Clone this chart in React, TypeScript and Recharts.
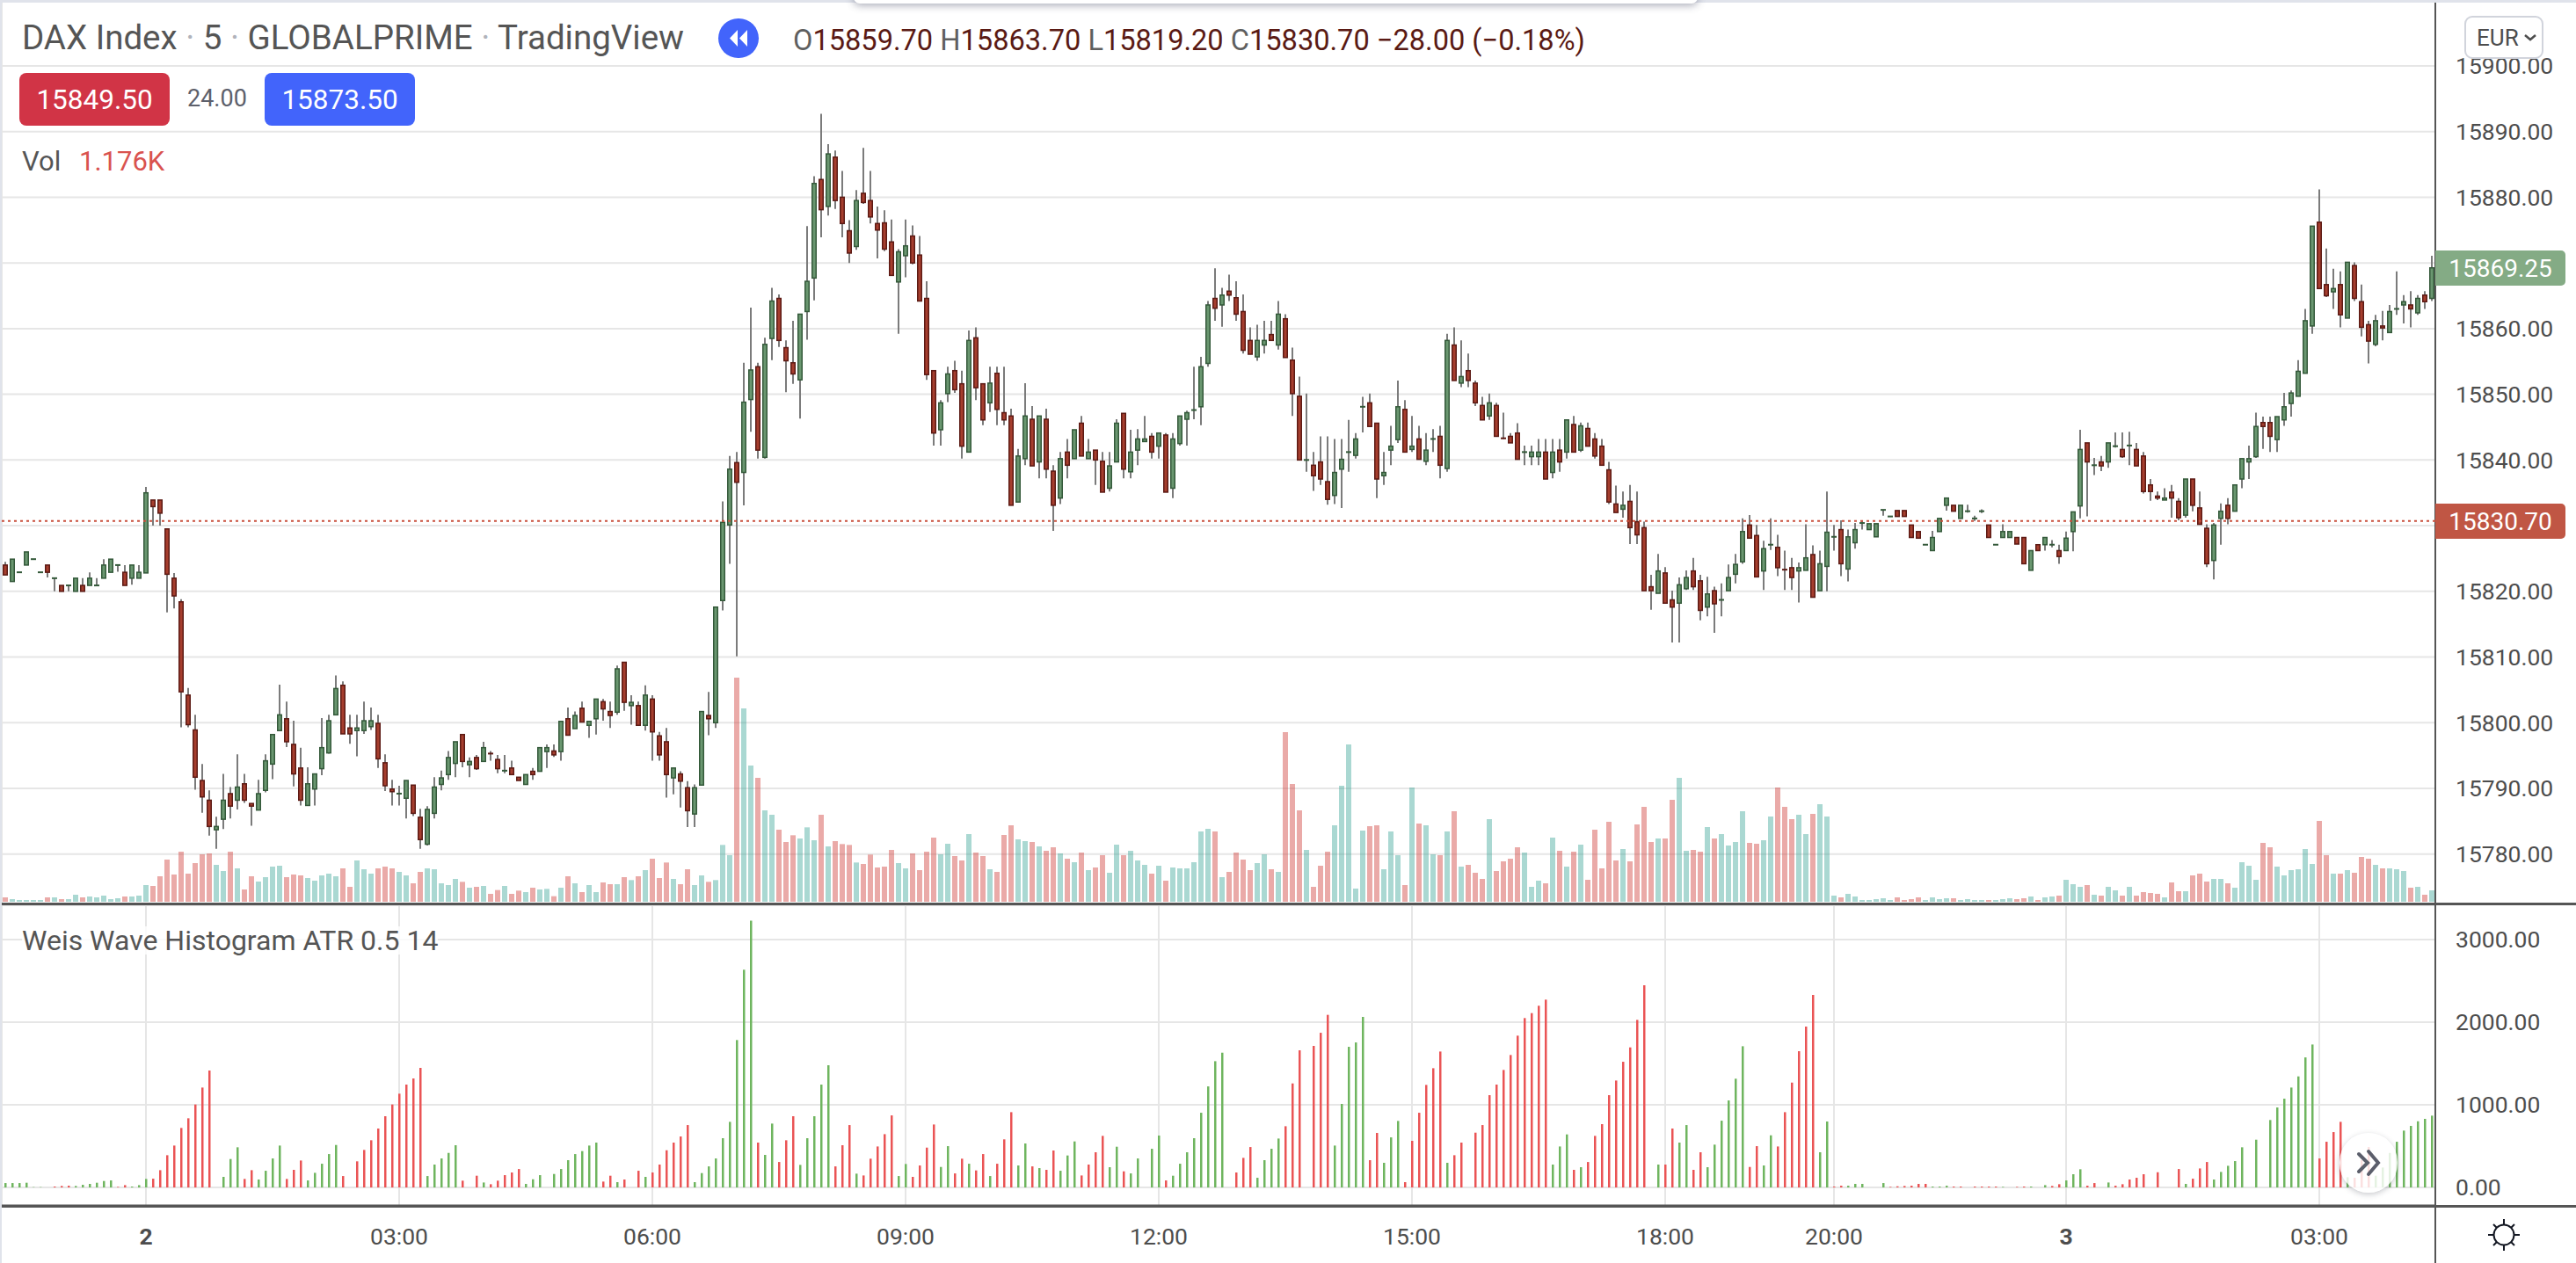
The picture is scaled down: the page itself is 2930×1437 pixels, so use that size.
import React from 'react';
import {
  ComposedChart,
  Bar,
  XAxis,
  YAxis,
  CartesianGrid,
  ReferenceLine,
} from 'recharts';

const WIDTH = 2930;
const HEIGHT = 1437;
const MAIN_HEIGHT = 1028;
const FONT = 'Roboto, sans-serif';

const opens = [
  15824,15821.5,15822.9,15824,15824.9,15822.9,15824,15822,15820.9,15820.9,
  15820,15820.9,15820.9,15820.9,15822,15822.9,15824,15822.9,15822,15822,
  15822.8,15833.9,15833.9,15829.5,15822,15818.4,15804.2,15798.9,15791.2,15788.2,
  15783.7,15785.3,15789.2,15788.2,15790.7,15787.7,15786.7,15789.7,15793.7,15798.8,
  15800.6,15796.7,15793.1,15787.4,15789.9,15793,15795.4,15801.2,15805.7,15799.2,
  15798.8,15798.8,15799.4,15799.9,15793.9,15789.9,15789.1,15788.5,15790.5,15785.6,
  15781.5,15786.2,15790.6,15792.1,15793.8,15798.2,15793.6,15794.7,15794.1,15795.3,
  15794.4,15792.6,15793.1,15791.7,15790.6,15792.6,15792.6,15795.6,15795.7,15795.6,
  15800.6,15799.1,15802.2,15799.6,15800.6,15803.2,15801.7,15801.6,15809.2,15802.6,
  15802.6,15799.6,15803.6,15798,15797.1,15791.6,15792.2,15790.1,15786.1,15790.5,
  15801.1,15800,15818.6,15830.1,15839.6,15838.1,15849.2,15854.2,15840.4,15858.5,
  15864.6,15857.1,15854.8,15852.2,15862.6,15867.7,15882.7,15878.6,15886.1,15880,
  15874.9,15872.5,15880.6,15879.5,15876,15876.1,15873.2,15867.1,15871.1,15874.1,
  15871.2,15864.6,15853.6,15844.6,15850.1,15853.6,15851.6,15841.2,15858.6,15851.6,
  15848.7,15853.2,15847.2,15846.7,15833.6,15840.2,15846.2,15839.7,15846.2,15838.3,
  15834.2,15841.2,15840.2,15845.6,15840.2,15841.5,15839.8,15835.7,15839.7,15847.1,
  15838.2,15841.5,15842.8,15843.6,15842.1,15843.8,15835.7,15842.5,15846.2,15847.6,
  15848.1,15854.7,15864.6,15863.6,15865.7,15864.7,15862.6,15858.2,15855.7,15857.5,
  15859.1,15857.5,15861.5,15855.2,15849.7,15840,15839.2,15839.7,15836.7,15834.6,
  15838.6,15841.2,15840.7,15848.1,15848.7,15845.6,15837.6,15841.5,15843.1,15847.7,
  15841.6,15843.2,15839.8,15843.2,15843.6,15838.7,15857.5,15851.7,15853.6,15851.7,
  15848.3,15846.7,15848.3,15843.3,15843.6,15844.1,15841.2,15840.5,15840.5,15841.2,
  15838.1,15841.5,15841.2,15845.4,15841.5,15844.8,15843.2,15842.1,15838.5,15833.3,
  15832.5,15833.7,15830.6,15829.7,15820.7,15819.7,15822.8,15818.7,15818.2,15820.4,
  15823.1,15821.6,15817.6,15820.1,15818.7,15820.1,15822.6,15824.5,15830.1,15828.5,
  15823.1,15827.1,15826.7,15823.3,15823.6,15823.1,15823.2,15825.6,15820.1,15823.8,
  15828.3,15829.4,15823.4,15827.4,15830.4,15829.4,15828.3,15832.4,15831.4,15832.3,
  15832.3,15830.1,15829.1,15827.1,15826.2,15829.1,15833.1,15833.1,15831.1,15832.2,
  15831.1,15832.2,15830.1,15827.1,15828.2,15828.2,15828.2,15828.2,15823.2,15827.1,
  15827.1,15827.1,15826.2,15826.2,15829.1,15833,15842.6,15839.2,15839.7,15839.7,
  15841.9,15841.6,15842.2,15841.6,15840.6,15836.2,15834.5,15833.9,15835.1,15833.7,
  15831.6,15837.1,15832.7,15829.6,15824.7,15831.1,15833.1,15832.2,15837.1,15839.7,
  15840.5,15845.7,15845.7,15843.1,15846.1,15848.6,15849.7,15853.2,15860.4,15876.2,
  15866.7,15865.6,15866.7,15861.6,15869.6,15864.1,15860.6,15857.6,15860.4,15859.4,
  15863,15863.6,15863.6,15862.4,15865.1,15864.6,
];

const closes = [
  15822.5,15824.9,15822.9,15826,15824.9,15822.9,15822.9,15822,15820,15820.9,
  15822,15820,15822,15820.9,15824,15824.9,15824,15820.9,15824,15822.9,
  15835,15832.9,15831.9,15822.6,15819.3,15804.7,15799.7,15791.7,15788.7,15784.2,
  15784.2,15788.2,15787.3,15790.2,15788.2,15787.3,15789.2,15794.2,15798.2,15801.2,
  15797.1,15792.2,15788.2,15790.7,15792.2,15796.2,15800.3,15805.2,15798.3,15798.3,
  15799.2,15800.3,15800.3,15794.5,15790.4,15789.5,15789.2,15791.2,15786.2,15782.2,
  15786.8,15790.2,15791.6,15794.7,15797.1,15794.1,15794.1,15793,15796.2,15795.1,
  15793,15792.7,15792.1,15791.2,15792.1,15792.1,15796.2,15796.2,15795.1,15800.2,
  15798.1,15801.1,15800.1,15800.2,15803.6,15802.1,15801.1,15808.2,15803.1,15803.1,
  15799.6,15804.2,15798.6,15795.1,15792.1,15793.1,15791.1,15786.6,15790.1,15801.7,
  15800.6,15817.6,15830.5,15838.6,15836.6,15848.8,15853.7,15841.5,15857.6,15864.2,
  15858.2,15855.1,15853.1,15862.2,15867.2,15882.1,15878.1,15886.6,15879.5,15876,
  15871.5,15879.5,15879.2,15877,15875,15872.1,15868.1,15871.7,15872.6,15870,
  15864.2,15853,15844.1,15848.7,15853.1,15850.7,15842.1,15858.2,15851,15846.1,
  15851.7,15847.7,15846.1,15833.1,15840.6,15846.7,15839.1,15846.7,15838.6,15833.1,
  15840.2,15839.2,15844.6,15840.6,15841.2,15840,15835.1,15839.1,15845.6,15838.6,
  15841.2,15843.2,15843.2,15841.2,15844.1,15835.1,15843.2,15846.7,15847.2,15847.6,
  15854.2,15863.6,15863.1,15865.1,15865.1,15862.2,15856.7,15856.1,15858.2,15858.2,
  15858.2,15862.2,15855.6,15850.1,15840,15840,15837.6,15837.1,15834,15838.1,
  15840.1,15841.2,15843.2,15848.1,15845.1,15837.1,15838.1,15842.1,15848.1,15841.2,
  15842.1,15840.1,15841.5,15843.2,15839.2,15858.2,15852.1,15852.7,15852.1,15848.7,
  15846.1,15848.7,15843.6,15843.2,15842.6,15840.1,15841.2,15841.2,15841.2,15837.1,
  15841.2,15839.7,15846.1,15841.2,15845.2,15842.1,15840.6,15839.2,15833.6,15832,
  15833.1,15829.7,15828.6,15820.1,15820.1,15823.1,15818.2,15817.6,15821,15822.1,
  15820.7,15817.1,15819.6,15818.1,15818.7,15822.1,15824.1,15829.1,15828.1,15822.2,
  15826.5,15827.1,15823.6,15823.1,15822.1,15823.6,15825.1,15819.1,15824.2,15829,
  15828.3,15824.2,15828.3,15829.4,15830.4,15830.3,15830.3,15832.4,15831.4,15831.4,
  15831.4,15828.2,15828.1,15827.1,15828.2,15831.1,15834.2,15832.2,15833.1,15832.2,
  15831.1,15832.2,15828.2,15827.1,15829.1,15829.1,15827.2,15824.2,15826.2,15826.2,
  15828.2,15827.1,15825.3,15828.1,15832.1,15841.6,15839.7,15839.2,15839.1,15842.6,
  15842.1,15840.5,15842.2,15839.1,15835.2,15835.2,15834.2,15834.2,15834.2,15831.2,
  15837.1,15833.1,15830.2,15824.2,15830.1,15832.2,15831.1,15836.2,15840.2,15840.2,
  15845.1,15845.1,15843.6,15846.6,15848.1,15850.2,15853.5,15861.2,15875.6,15866.1,
  15865,15866.1,15862.1,15870.1,15864.6,15860.2,15858.1,15861.2,15860.1,15862.6,
  15863,15864.1,15863,15864.6,15864.1,15869.25,
];

const highs = [
  15824.5,15824.9,15822.9,15826,15824.9,15822.9,15824,15822,15820.9,15820.9,
  15822,15822,15822.9,15822,15824.9,15824.9,15824,15824,15824,15824,
  15835.9,15833.9,15833.9,15829.5,15822.8,15818.8,15805.3,15801.2,15793.7,15789.7,
  15785.7,15792.2,15790.2,15795.2,15792.2,15787.7,15791.3,15795.2,15798.2,15805.8,
  15803.2,15800.3,15796.2,15793.2,15792.2,15800.7,15801.2,15807.2,15806.3,15801.2,
  15801.2,15803.2,15802.3,15801.2,15795.2,15791.3,15790.4,15791.2,15790.5,15786.9,
  15787.3,15791.7,15792.7,15795.7,15797.1,15798.2,15794.7,15795.1,15797.1,15795.7,
  15795.1,15795.1,15794.2,15791.7,15792.1,15793.1,15796.2,15796.7,15796.7,15800.2,
  15802.3,15801.7,15803.2,15800.2,15803.6,15803.6,15803.2,15808.7,15809.2,15804.2,
  15803.2,15805.7,15804.2,15798.6,15799.2,15793.1,15792.6,15791.1,15790.6,15801.7,
  15804.7,15817.6,15833.7,15840.6,15841.2,15854.8,15863.2,15854.8,15858.6,15866.2,
  15865.2,15858.2,15861.2,15862.2,15875.6,15883.2,15892.7,15888.1,15887.1,15884,
  15876.5,15881.1,15887.5,15884,15878.6,15878,15876.6,15872.1,15876.6,15875.7,
  15874.1,15867.2,15853.6,15849.1,15854.2,15855.1,15853.6,15859.7,15860.2,15851.6,
  15854.2,15854.2,15854.2,15847.8,15841.7,15851.7,15848.2,15846.7,15847.8,15839.2,
  15841.2,15843.2,15844.6,15846.7,15843.2,15841.5,15841.2,15841.2,15846.2,15847.1,
  15844.6,15844.7,15846.7,15844.1,15844.1,15844.1,15844.1,15846.7,15847.5,15854.2,
  15855.7,15864.2,15869.2,15866.2,15868.2,15867.2,15865.2,15860.2,15860.6,15861.2,
  15861.2,15864.2,15862.2,15857.1,15852.7,15850.1,15841.2,15843.6,15843.6,15843.2,
  15843.2,15846.1,15844.1,15849.6,15850.1,15845.6,15841.2,15845.2,15852.1,15849.1,
  15846.7,15845.2,15844.1,15844.7,15845.2,15859.2,15860.2,15858.2,15856.2,15852.1,
  15849.6,15850.1,15848.7,15847.2,15844.1,15845.6,15842.2,15842.2,15843.2,15843.2,
  15843.2,15843.2,15846.1,15846.7,15845.7,15845.7,15844.1,15843.2,15839.7,15836.1,
  15835.2,15836.2,15835.2,15830.6,15822.5,15825.7,15823.7,15820.1,15822.1,15823.2,
  15825.1,15822.5,15822.2,15820.7,15821.2,15824.1,15825.7,15831.1,15831.6,15830.1,
  15827.7,15831.1,15828.6,15826.2,15825.1,15824.4,15830.2,15827,15826.2,15835.2,
  15830.1,15830.8,15829.4,15830.4,15830.8,15830.3,15830.3,15832.4,15831.4,15832.3,
  15832.3,15830.1,15829.1,15827.1,15829.2,15831.1,15834.2,15833.1,15833.1,15833.2,
  15831.5,15832.5,15830.1,15827.1,15830.2,15829.1,15828.2,15828.2,15826.2,15827.1,
  15828.2,15827.8,15827.1,15829.1,15832.1,15844.6,15842.6,15840.3,15840.6,15842.6,
  15844.2,15844.2,15844.3,15842.6,15841.2,15837.1,15835.2,15835.7,15836.2,15834.2,
  15837.1,15837.1,15835.2,15830.2,15830.4,15833.4,15834.2,15836.2,15840.2,15842.2,
  15847.2,15846.6,15846.6,15846.6,15850.2,15850.6,15855.2,15863,15875.6,15881.2,
  15872.2,15869.1,15868.7,15870.1,15870.1,15866.7,15861.2,15862.1,15862.7,15863.6,
  15868.7,15865.1,15865.7,15865.1,15865.7,15871.1,
];

const lows = [
  15822.5,15821.5,15822.9,15824,15824.9,15822.9,15822.1,15820,15820,15820,
  15820,15820,15820.9,15820.9,15822,15822.9,15823,15820.9,15821,15822,
  15822.8,15830,15830,15816.8,15817.4,15799.3,15799.3,15789.8,15786.3,15782.8,
  15780.8,15783.8,15785.4,15786.8,15787.8,15784.3,15786.7,15789.4,15791.4,15798.8,
  15796.3,15790.3,15787.4,15787.4,15787.4,15792,15795.3,15801.2,15798.3,15796.8,
  15794.9,15798.3,15798.9,15793.1,15789.6,15787.4,15787.4,15785.4,15785.8,15780.8,
  15781.3,15785.4,15789.7,15791.3,15791.7,15793.2,15791.7,15792.8,15794.1,15794.2,
  15792.3,15792.3,15792.1,15791.2,15790.6,15791.3,15792.6,15793.1,15794.8,15794.2,
  15798.1,15799.1,15800.1,15797.7,15798.2,15800.3,15799.2,15801.2,15801.8,15799.7,
  15799.6,15798.8,15794.2,15794.2,15788.6,15789.1,15787.1,15784.1,15784.1,15790.5,
  15798.1,15799.2,15817.1,15824.2,15810.1,15833.1,15844.3,15840.2,15840.2,15855.2,
  15857.2,15850.3,15851.6,15846.3,15858.3,15864.3,15873.9,15877.2,15878.2,15873.9,
  15870,15872,15879,15876,15870.7,15871.8,15868.1,15859.2,15867.8,15869.8,
  15864.2,15852.2,15842.2,15842.2,15848.8,15850.2,15840.2,15841.2,15849.1,15845.3,
  15847.3,15845.3,15845.3,15833.1,15833.6,15839.2,15839.1,15837.2,15837.2,15829.2,
  15833.3,15837.2,15840.2,15840.6,15840.2,15836.2,15835.1,15835.2,15839.7,15837.2,
  15837.2,15839.2,15842.8,15840.2,15840.2,15835.1,15834.2,15842.2,15842.2,15846.2,
  15845.3,15854.2,15861.2,15860.3,15864.2,15861.2,15856.2,15856.1,15855.1,15856.2,
  15858.2,15856.8,15855.6,15846.7,15840,15838.2,15835.3,15836.2,15833.2,15833.3,
  15832.7,15838.2,15840.2,15844.2,15845.1,15834.2,15836.2,15839.2,15842.6,15841.2,
  15841.2,15840.1,15839.2,15841.2,15837.2,15838.2,15852.1,15851.1,15851.1,15848.2,
  15846.1,15846.1,15843.6,15843.2,15842.6,15840.1,15839.2,15839.2,15839.2,15837.1,
  15837.2,15838.2,15840.2,15841.2,15841.2,15842.1,15840.2,15839.2,15833.3,15832,
  15831.2,15827.2,15827.2,15820.1,15817.2,15819.7,15818.2,15812.2,15812.2,15820.2,
  15820.2,15815.6,15816.2,15813.7,15816.2,15820.1,15821.2,15824.2,15828.1,15822.2,
  15820.2,15826.3,15822.3,15820.2,15820.2,15818.3,15823.2,15819.1,15820.1,15820,
  15826.2,15822.3,15821.5,15826.5,15829.4,15829.4,15828.3,15831.5,15831.4,15831.4,
  15831.4,15828.2,15828.1,15827.1,15826.2,15829.1,15832.3,15832.2,15831.1,15832,
  15830.7,15831.9,15828.2,15827.1,15828.2,15828.2,15827.2,15824.2,15823.2,15826.2,
  15826.2,15826.7,15824.2,15826.2,15826.1,15831.1,15831.4,15837.7,15838.3,15838.8,
  15841.9,15840.3,15839.2,15839.1,15834.9,15833.8,15833.9,15833.9,15831.2,15830.8,
  15831.2,15832.2,15830.2,15823.7,15821.8,15827.1,15830.2,15832.2,15835.7,15837.1,
  15840.3,15841.7,15841.2,15841.2,15845.2,15846.6,15849.7,15853.2,15859.2,15866.1,
  15864.8,15863,15860.2,15861.6,15864.2,15858.8,15854.7,15857.3,15858.2,15859.4,
  15862.1,15860.8,15860.2,15862.1,15863,15864.2,
];

const volumes = [
  15,9,6,6,6,6,15,15,9,9,24,15,18,15,21,9,12,18,18,21,
  57,54,87,144,93,171,96,132,162,165,126,105,171,114,42,87,69,84,120,123,
  84,93,90,81,72,90,96,87,114,51,141,111,96,114,120,114,102,90,63,102,
  114,111,63,57,78,68,48,51,54,27,40,54,27,38,33,48,42,44,19,48,
  87,63,33,57,33,66,60,60,84,74,87,108,147,81,134,78,60,111,57,90,
  68,74,194,159,765,660,465,423,312,297,246,204,227,216,254,210,297,189,207,197,
  194,134,129,161,117,120,177,132,114,165,108,171,219,162,198,156,141,231,168,156,
  111,102,228,261,213,207,204,189,174,186,165,147,135,168,108,117,159,99,195,159,
  174,141,126,96,123,72,117,114,114,135,240,249,240,84,102,168,144,108,132,162,
  111,102,579,402,312,177,51,123,171,261,396,537,45,243,258,261,111,240,159,57,
  390,267,261,162,159,240,309,120,126,99,78,282,105,138,147,186,168,51,72,63,
  219,174,120,171,195,75,246,114,273,141,180,138,264,324,204,216,216,348,423,174,
  177,171,255,216,231,192,204,309,201,198,210,291,390,324,282,297,231,300,333,291,
  21,15,27,18,6,6,9,12,6,15,6,9,15,6,15,9,12,12,6,9,
  6,6,6,6,9,12,9,12,18,6,15,18,21,75,60,51,57,24,21,51,
  39,21,51,21,33,30,27,15,66,36,36,90,96,69,78,78,63,48,135,123,
  75,201,186,120,90,108,111,180,129,276,159,96,96,108,99,153,147,126,114,114,
  111,105,48,51,24,39,
];

// signed: positive bars belong to an up wave, negative to a down wave
const weisWave = [
  53,53,53,57,4,4,0,-11,-18,-21,18,32,43,57,78,85,-7,-28,11,28,
  103,-106,-209,-390,-507,-720,-837,-1004,-1209,-1415,0,128,344,486,-103,-209,96,202,351,507,
  -103,-213,-326,85,177,287,404,514,-138,0,-316,-454,-571,-713,-862,-1004,-1135,-1245,-1319,-1447,
  138,277,351,418,511,-82,0,-142,60,-39,-82,-149,-181,-223,43,99,149,0,163,223,
  330,404,440,507,543,-71,-142,64,-96,0,-202,128,-181,-277,-450,-543,-617,-755,64,174,
  255,351,596,794,1784,2635,3230,-543,394,773,-308,-571,-862,273,596,862,1245,1479,-255,-511,
  -755,167,-145,-348,-496,-645,-872,138,284,-128,-266,-482,-762,248,500,-170,-348,287,-206,-404,
  138,-287,-582,-911,266,532,-255,234,-213,-447,202,387,557,-145,-277,-426,-624,245,493,-195,
  170,351,0,468,628,-85,142,287,426,596,904,1223,1528,1631,0,-181,-358,-489,117,330,
  468,592,-741,-1259,-1660,0,-1713,-1872,-2089,507,1011,1702,1755,2064,-330,-660,298,606,805,-64,
  -564,-904,-1241,-1443,-1645,298,-390,-543,0,-663,-755,-1117,-1245,-1422,-1603,-1837,-2050,-2110,-2199,-2273,
  277,496,642,-213,245,-308,-624,-766,-1117,-1294,-1521,-1695,-2028,-2447,0,277,-277,-713,543,755,
  -213,-426,245,518,808,1053,1316,1709,-248,-500,266,631,-496,-911,-1269,-1649,-1947,-2330,426,798,
  -11,-21,21,43,43,0,0,53,-7,-14,-18,-21,-43,-43,11,11,21,-11,-11,0,
  -11,-11,-11,-11,7,0,-7,-11,11,0,28,-18,-39,85,160,220,-21,-53,0,60,
  -21,-39,-96,-117,-160,0,-184,0,0,-223,43,-106,-230,-308,96,188,262,319,486,0,
  578,0,816,968,1074,1209,1344,1574,1730,-351,-553,-670,-794,124,-117,-330,-489,142,241,418,
  553,688,745,801,830,869,
];

const timeTicks = [20, 56, 92, 128, 164, 200, 236, 260, 293, 329];
const timeLabels = ['2', '03:00', '06:00', '09:00', '12:00', '15:00', '18:00', '20:00', '3', '03:00'];
const dateLabels = ['2', '3'];
const priceTicks = [15780, 15790, 15800, 15810, 15820, 15830, 15840, 15850, 15860, 15870, 15880, 15890, 15900];
// these two sit under the last-price tags, so only their grid lines show
const coveredPriceTicks = [15830, 15870];
const weisTicks = [0, 1000, 2000, 3000];

const priceDomain = [15772.47, 15910.03];
const volumeDomain = [0, 3078];
const weisDomain = [-223, 3415];

const rows = opens.map((open, i) => {
  const close = closes[i];
  const rising = close >= open;
  return {
    index: i,
    open,
    close,
    high: Math.max(highs[i], open, close),
    low: Math.min(lows[i], open, close),
    volUp: rising ? volumes[i] : 0,
    volDown: rising ? 0 : volumes[i],
    weisUp: weisWave[i] > 0 ? weisWave[i] : 0,
    weisDown: weisWave[i] < 0 ? -weisWave[i] : 0,
  };
});

const GRID = '#e6e6e6';
const AXIS = '#555555';
const AXIS_TEXT = '#4d4d4d';

function Candle(props: any) {
  const { x, y, width, height, payload } = props;
  const { open, close, high, low } = payload;
  const h = Math.abs(height);
  const top = height < 0 ? y + height : y;
  const range = high - low;
  const toY = (v: number) => (range > 0 ? top + ((high - v) / range) * h : top);
  const cx = x + width / 2;
  const rising = close >= open;
  const bodyTop = toY(Math.max(open, close));
  const bodyBottom = toY(Math.min(open, close));
  const bodyH = bodyBottom - bodyTop;
  const border = rising ? '#34593a' : '#5c1a14';
  const fill = rising ? '#6a9770' : '#a63e2e';

  return (
    <g>
      {range > 0 && <line x1={cx} x2={cx} y1={top} y2={top + h} stroke="#7b7b7b" strokeWidth={2} />}
      {bodyH < 1.5 ? (
        <rect x={cx - 3} y={bodyTop - 1} width={6} height={2} fill={border} />
      ) : (
        <rect x={cx - 2.25} y={bodyTop} width={4.5} height={bodyH} fill={fill} stroke={border} strokeWidth={1.5} />
      )}
    </g>
  );
}

function TimeTick(props: any) {
  const { x, y, payload } = props;
  const label = timeLabels[timeTicks.indexOf(payload.value)];
  return (
    <text
      x={x}
      y={y + 42}
      textAnchor="middle"
      fontSize={26.5}
      fontFamily={FONT}
      fontWeight={dateLabels.includes(label) ? 700 : 400}
      fill={AXIS_TEXT}
    >
      {label}
    </text>
  );
}

function Label(props: any) {
  const { left, top, size, color, children, background, weight } = props;
  return (
    <div
      style={{
        position: 'absolute',
        left,
        top,
        fontSize: size,
        lineHeight: 1,
        color,
        fontFamily: FONT,
        fontWeight: weight || 400,
        whiteSpace: 'nowrap',
        background,
      }}
    >
      {children}
    </div>
  );
}

function Badge(props: any) {
  const { left, top, width, height, color, radius, size, children } = props;
  return (
    <div
      style={{
        position: 'absolute',
        left,
        top,
        width,
        height,
        background: color,
        borderRadius: radius,
        color: '#ffffff',
        fontFamily: FONT,
        fontSize: size,
        display: 'flex',
        alignItems: 'center',
        justifyContent: 'center',
      }}
    >
      {children}
    </div>
  );
}

const layer: React.CSSProperties = { position: 'absolute', left: 0, top: 0 };

export default function App() {
  return (
    <div
      style={{
        position: 'absolute',
        left: 0,
        top: 0,
        width: WIDTH,
        height: HEIGHT,
        background: '#ffffff',
        overflow: 'hidden',
      }}
    >
      {/* main pane: grid and price scale */}
      <div style={layer}>
        <ComposedChart width={WIDTH} height={MAIN_HEIGHT} data={rows} margin={{ top: 0, right: 0, bottom: 0, left: 2 }}>
          <CartesianGrid stroke={GRID} strokeWidth={2} />
          <XAxis dataKey="index" ticks={timeTicks} interval={0} height={0} tick={false} tickLine={false} axisLine={false} />
          <YAxis
            orientation="right"
            width={160}
            domain={priceDomain}
            ticks={priceTicks}
            interval={0}
            tickSize={0}
            tickMargin={23}
            tickFormatter={(v: number) => (coveredPriceTicks.includes(v) ? '' : v.toFixed(2))}
            tick={{ fontSize: 26.5, fontFamily: FONT, fill: AXIS_TEXT, textAnchor: 'start' }}
            axisLine={{ stroke: AXIS, strokeWidth: 2 }}
            tickLine={false}
          />
          {/* the axes only get a scale once a series is attached */}
          <Bar dataKey="high" fill="none" isAnimationActive={false} />
        </ComposedChart>
      </div>

      {/* main pane: volume */}
      <div style={layer}>
        <ComposedChart width={WIDTH} height={MAIN_HEIGHT} data={rows} barSize={6} margin={{ top: 0, right: 160, bottom: 2, left: 2 }}>
          <XAxis dataKey="index" hide />
          <YAxis hide domain={volumeDomain} />
          <Bar dataKey="volUp" stackId="vol" fill="#2a9d8f" fillOpacity={0.4} isAnimationActive={false} />
          <Bar dataKey="volDown" stackId="vol" fill="#d0433f" fillOpacity={0.45} isAnimationActive={false} />
        </ComposedChart>
      </div>

      {/* main pane: candles */}
      <div style={layer}>
        <ComposedChart width={WIDTH} height={MAIN_HEIGHT} data={rows} barSize={6} margin={{ top: 0, right: 160, bottom: 0, left: 2 }}>
          <XAxis dataKey="index" hide />
          <YAxis hide domain={priceDomain} allowDataOverflow />
          <ReferenceLine y={15830.7} stroke="#c9503c" strokeWidth={2} strokeDasharray="3 4" />
          <Bar
            dataKey={(d: any) => [d.low, d.high]}
            shape={(p: any) => <Candle {...p} />}
            isAnimationActive={false}
          />
        </ComposedChart>
      </div>

      {/* lower pane: Weis wave */}
      <div style={{ position: 'absolute', left: 0, top: 1030 }}>
        <ComposedChart width={WIDTH} height={407} data={rows} barSize={2.5} margin={{ top: 0, right: 0, bottom: 0, left: 2 }}>
          <CartesianGrid stroke={GRID} strokeWidth={2} />
          <XAxis
            dataKey="index"
            height={65}
            ticks={timeTicks}
            interval={0}
            tickSize={0}
            tick={(p: any) => <TimeTick {...p} />}
            axisLine={{ stroke: AXIS, strokeWidth: 3 }}
            tickLine={false}
          />
          <YAxis
            orientation="right"
            width={160}
            domain={weisDomain}
            ticks={weisTicks}
            interval={0}
            tickSize={0}
            tickMargin={23}
            tickFormatter={(v: number) => v.toFixed(2)}
            tick={{ fontSize: 26.5, fontFamily: FONT, fill: AXIS_TEXT, textAnchor: 'start' }}
            axisLine={{ stroke: AXIS, strokeWidth: 2 }}
            tickLine={false}
          />
          <Bar dataKey="weisUp" stackId="weis" fill="#6fb55f" isAnimationActive={false} />
          <Bar dataKey="weisDown" stackId="weis" fill="#ea5455" isAnimationActive={false} />
        </ComposedChart>
      </div>

      {/* pane separators and frame */}
      <div style={{ position: 'absolute', left: 0, top: 1027, width: WIDTH, height: 3, background: AXIS }} />
      <div style={{ position: 'absolute', left: 0, top: 1371, width: WIDTH, height: 3, background: AXIS }} />
      <div style={{ position: 'absolute', left: 2769, top: 1030, width: 2, height: 407, background: AXIS }} />
      <div style={{ position: 'absolute', left: 0, top: 0, width: WIDTH, height: 3, background: '#e0e3eb' }} />
      <div style={{ position: 'absolute', left: 0, top: 0, width: 2, height: HEIGHT, background: '#e0e3eb' }} />
      <div
        style={{
          position: 'absolute',
          left: 971,
          top: -10,
          width: 960,
          height: 14,
          background: '#ffffff',
          borderRadius: 8,
          boxShadow: '0 2px 10px rgba(60,65,90,0.45)',
        }}
      />

      {/* legend */}
      <Label left={25} top={24} size={38.5} color="#555555" background="rgba(255,255,255,0.7)">
        DAX Index <span style={{ color: '#b0b3bb' }}>·</span> 5 <span style={{ color: '#b0b3bb' }}>·</span> GLOBALPRIME{' '}
        <span style={{ color: '#b0b3bb' }}>·</span> TradingView
      </Label>
      <div style={{ position: 'absolute', left: 817, top: 21, width: 46, height: 45, borderRadius: 23, background: '#4264fb' }}>
        <svg width={46} height={45}>
          <path d="M22 13 L13 22.5 L22 32 Z M33 13 L24 22.5 L33 32 Z" fill="#ffffff" />
        </svg>
      </div>
      <Label left={902} top={30} size={32.6} color="#5a1a14">
        <span style={{ color: '#5f5f5f' }}>O</span>15859.70 <span style={{ color: '#5f5f5f' }}>H</span>15863.70{' '}
        <span style={{ color: '#5f5f5f' }}>L</span>15819.20 <span style={{ color: '#5f5f5f' }}>C</span>15830.70 −28.00 (−0.18%)
      </Label>
      <Badge left={22} top={83} width={171} height={60} color="#d13446" radius={8} size={31.5}>
        15849.50
      </Badge>
      <Label left={213} top={99} size={27} color="#5d606b">
        24.00
      </Label>
      <Badge left={301} top={83} width={171} height={60} color="#4264fb" radius={8} size={31.5}>
        15873.50
      </Badge>
      <Label left={25} top={168} size={31} color="#555555">
        Vol
      </Label>
      <Label left={90} top={168} size={31} color="#d9534f">
        1.176K
      </Label>
      <Label left={25} top={1054} size={32} color="#555555" background="rgba(255,255,255,0.8)">
        Weis Wave Histogram ATR 0.5 14
      </Label>

      {/* price scale extras */}
      <div
        style={{
          position: 'absolute',
          left: 2803,
          top: 18,
          width: 90,
          height: 49,
          boxSizing: 'border-box',
          border: '2px solid #d1d4dc',
          borderRadius: 9,
          background: '#ffffff',
          color: '#4d4d4d',
          fontFamily: FONT,
          fontSize: 26,
          display: 'flex',
          alignItems: 'center',
          paddingLeft: 12,
          gap: 6,
        }}
      >
        EUR
        <svg width={14} height={10}>
          <path d="M1 2 L7 7 L13 2" fill="none" stroke="#4d4d4d" strokeWidth={2.5} />
        </svg>
      </div>
      <Badge left={2770} top={285} width={148} height={40} color="#84ab85" radius="0 5px 5px 0" size={28}>
        15869.25
      </Badge>
      <Badge left={2770} top={573} width={148} height={40} color="#c05644" radius="0 5px 5px 0" size={28}>
        15830.70
      </Badge>

      {/* scroll button */}
      <div
        style={{
          position: 'absolute',
          left: 2661,
          top: 1289,
          width: 66,
          height: 68,
          borderRadius: 34,
          background: 'rgba(255,255,255,0.82)',
          boxShadow: '0 2px 6px rgba(40,45,60,0.25)',
        }}
      >
        <svg width={66} height={68}>
          <path d="M22 24 L32 34 L22 44 M33 21 L44 34 L33 47" fill="none" stroke="#5b5e6b" strokeWidth={4} strokeLinecap="round" />
        </svg>
      </div>

      {/* settings gear */}
      <svg style={{ position: 'absolute', left: 2828, top: 1385 }} width={40} height={40}>
        <circle cx={20} cy={20} r={11.5} fill="none" stroke="#131722" strokeWidth={2} />
        <path
          d="M20 2 V8 M20 32 V38 M2 20 H8 M32 20 H38 M8 8 L12 12 M32 8 L28 12 M8 32 L12 28 M32 32 L28 28"
          stroke="#131722"
          strokeWidth={2}
        />
      </svg>
    </div>
  );
}
